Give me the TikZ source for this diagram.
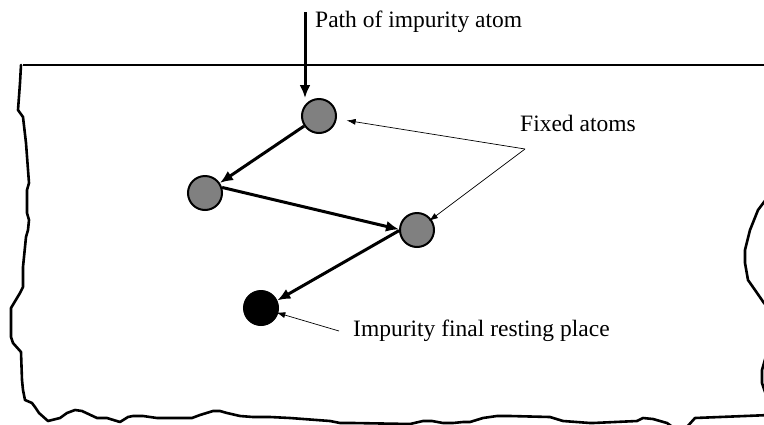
\documentclass[tikz,border=0pt]{standalone}
\usepackage{fontspec}
\setmainfont{Liberation Serif}
\usetikzlibrary{arrows.meta}

\tikzset{
  atom/.style={circle, draw=black, line width=2pt, fill=black!50, minimum size=34pt, inner sep=0pt},
  restatom/.style={circle, draw=black, line width=1pt, fill=black, minimum size=35pt, inner sep=0pt},
  hop/.style={line width=3pt, -{Latex[length=13pt,width=11pt]}},
  pointer/.style={line width=0.7pt, -{Latex[length=9pt,width=6pt]}},
  caption/.style={anchor=base west, inner sep=0pt, font=\fontsize{23.5}{28}\selectfont},
  edge/.style={line width=2.6pt, line join=round, line cap=round},
}

\begin{document}
\begin{tikzpicture}[x=1pt, y=-1pt]
  \useasboundingbox (0,0) rectangle (764,424);
  \clip (0,0) rectangle (764,424);

  % crystal surface
  \draw[line width=2.4pt] (23,65) -- (770,65);

  % broken edges of the crystal slab
  \draw[edge] (21,65) -- (20,83) -- (18,110) -- (23,117) -- (26,143) -- (29,183)
    -- (27,190) -- (27,213) -- (29,220) -- (28,230) -- (26,237) -- (23,267)
    -- (23,287) -- (20,293) -- (11,308) -- (11,337) -- (13,343) -- (21,352)
    -- (22,380) -- (23,390) -- (25,400) -- (32,403) -- (35,407) -- (39,413)
    -- (48,421) -- (60,418) -- (67,413) -- (75,410) -- (82,411) -- (97,418)
    -- (107,418) -- (120,422) -- (128,417) -- (133,416) -- (143,416) -- (157,418)
    -- (192,418) -- (200,415) -- (213,411) -- (220,411) -- (227,413) -- (240,416)
    -- (253,417) -- (270,417) -- (290,418) -- (330,421) -- (340,423) -- (353,423)
    -- (410,424) -- (423,421) -- (432,421) -- (443,423) -- (453,423) -- (463,422)
    -- (470,422) -- (483,418) -- (497,416) -- (510,416) -- (550,417) -- (563,421)
    -- (590,423) -- (593,423) -- (637,421) -- (643,418) -- (653,419) -- (667,423)
    -- (674,428);
  \draw[edge] (686,428) -- (695,418) -- (770,415);
  \draw[edge] (770,194) -- (764,202) -- (758,210) -- (750,230) -- (745,250)
    -- (745,263) -- (748,280) -- (755,290) -- (764,303) -- (770,310);
  \draw[edge] (766,356) -- (762,370) -- (762,383) -- (765,392);

  % atoms
  \node[atom] (a1) at (319,116) {};
  \node[atom] (a2) at (205,193) {};
  \node[atom] (a3) at (417,230) {};
  \node[restatom] (rest) at (261,308) {};

  % labels
  \node[caption] (lpath) at (315,27) {Path of impurity atom};
  \node[caption] (lfixed) at (520,131) {Fixed atoms};
  \node[caption] (lrest) at (353,336) {Impurity final resting place};

  % impurity path
  \coordinate (entry) at (305,12);
  \draw[hop] (entry) -- (entry |- a1.north);
  \draw[hop] (a1) -- (a2);
  \draw[hop] (a2.18) -- (a3.178);
  \draw[hop] (a3.182) -- (rest.25);

  % label pointers
  \coordinate (fixtip) at (525,149);
  \draw[pointer, shorten >=10pt] (fixtip) -- (a1);
  \draw[pointer, shorten >=-3pt] (fixtip) -- (a3);
  \coordinate (resttip) at (339,331);
  \draw[pointer, shorten >=-2pt] (resttip) -- (rest);
\end{tikzpicture}
\end{document}
